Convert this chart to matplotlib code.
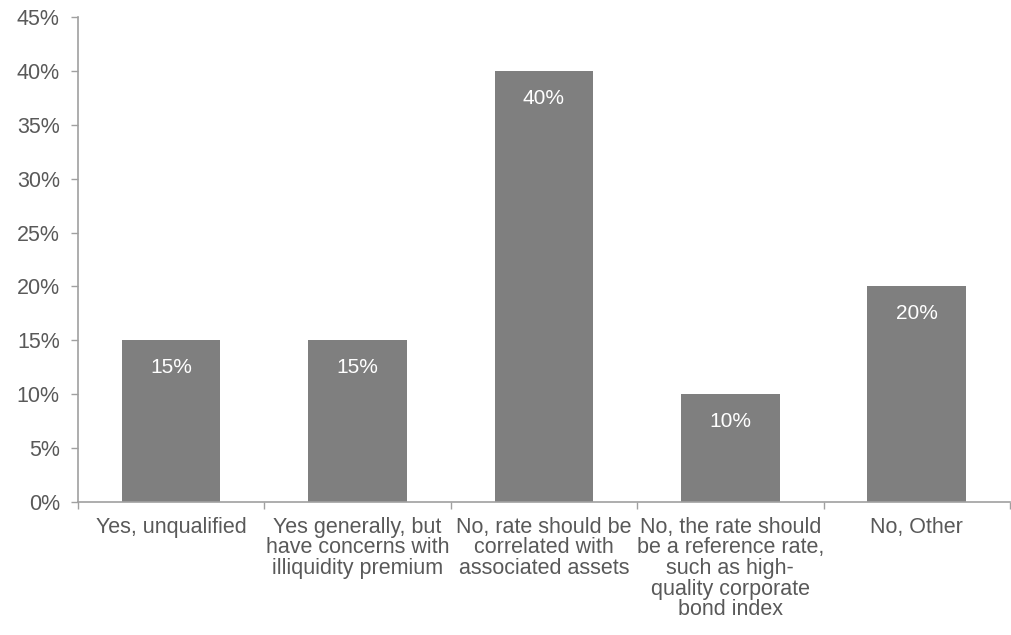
import matplotlib.pyplot as plt
from matplotlib.ticker import FixedLocator, PercentFormatter

plt.rcParams['font.family'] = ['Liberation Sans', 'DejaVu Sans']

categories = [
    "Yes, unqualified",
    "Yes generally, but\nhave concerns with\nilliquidity premium",
    "No, rate should be\ncorrelated with\nassociated assets",
    "No, the rate should\nbe a reference rate,\nsuch as high-\nquality corporate\nbond index",
    "No, Other",
]
shares = [15, 15, 40, 10, 20]

text_col = '#595959'
axis_col = '#a0a0a0'
bar_col = '#7f7f7f'
fs = 15.5

fig = plt.figure(figsize=(10.11, 6.35), dpi=100)
ax = fig.add_axes([0.077, 0.2094, 0.922, 0.7638])

x = range(len(categories))
bars = ax.bar(x, shares, width=0.53, color=bar_col)

# value labels inside the top of each bar
for b, v in zip(bars, shares):
    ax.text(b.get_x() + b.get_width() / 2, v - 2.55, f"{v}%",
            ha='center', va='center', color='white', fontsize=15)

ax.set_xlim(-0.5, len(categories) - 0.5)
ax.set_ylim(0, 45)
ax.set_yticks(range(0, 46, 5))
ax.yaxis.set_major_formatter(PercentFormatter(decimals=0))

ax.set_xticks(list(x))
ax.set_xticklabels(categories, fontsize=fs, color=text_col, linespacing=0.98)
ax.tick_params(axis='x', which='major', length=0, pad=10.5)
ax.xaxis.set_minor_locator(FixedLocator([i - 0.5 for i in range(len(categories) + 1)]))
ax.tick_params(axis='x', which='minor', length=5, color=axis_col, width=1)
ax.tick_params(axis='y', labelsize=fs, labelcolor=text_col, length=5,
               color=axis_col, width=1, pad=8)

for s in ['top', 'right']:
    ax.spines[s].set_visible(False)
for s in ['left', 'bottom']:
    ax.spines[s].set_color(axis_col)
    ax.spines[s].set_linewidth(1.2)

fig.savefig('out.png', dpi=100)
